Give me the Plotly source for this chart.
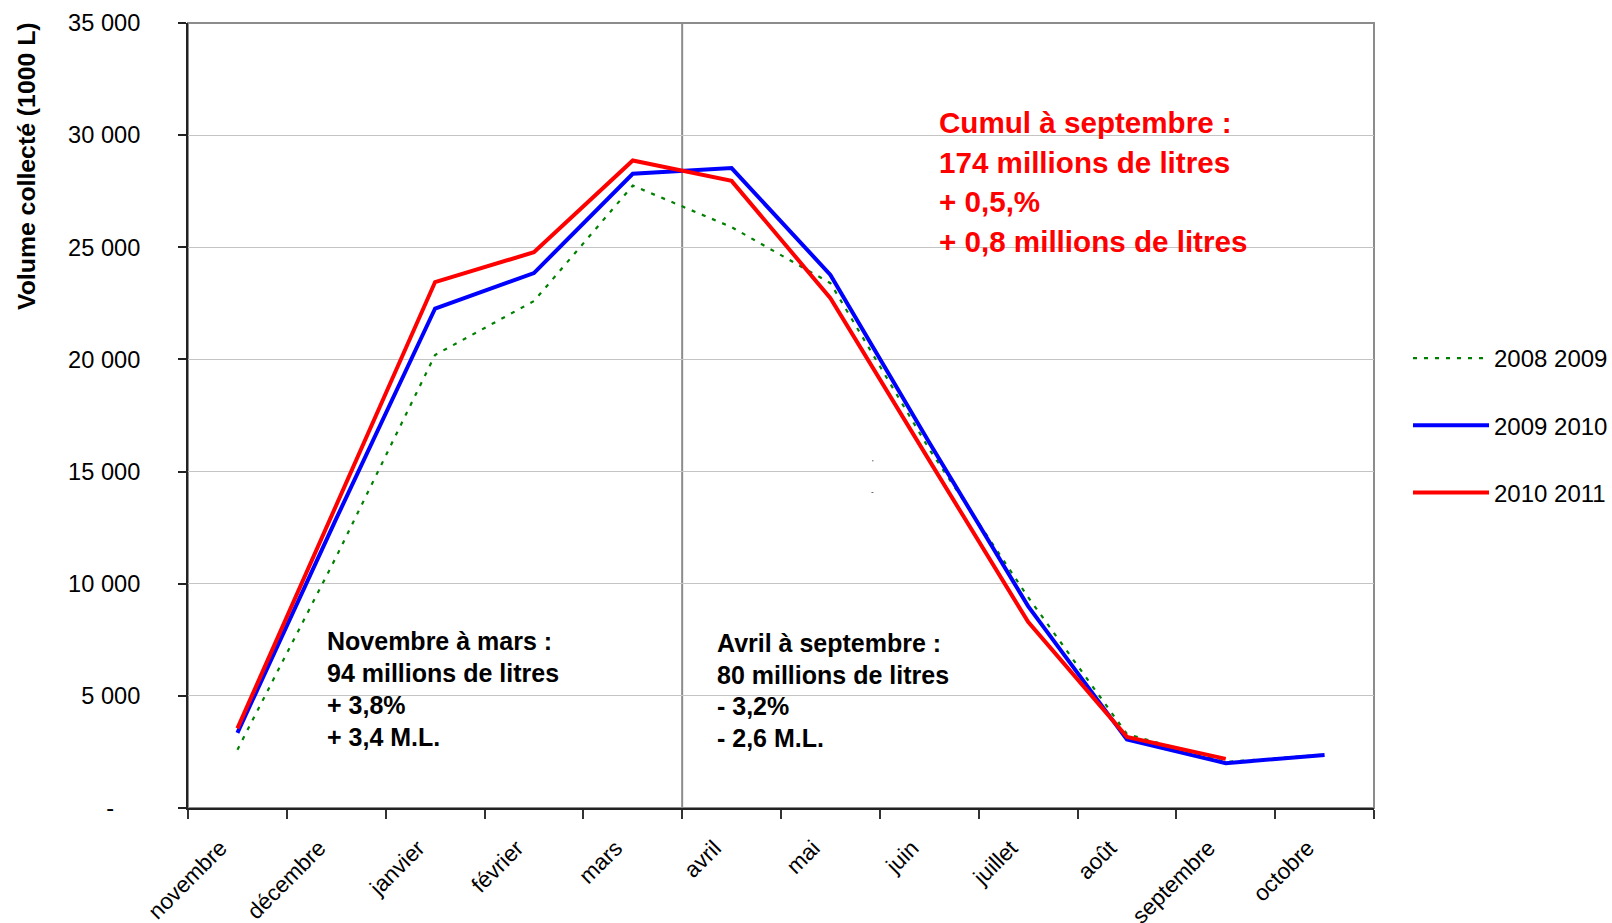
import plotly.graph_objects as go

# ---- data ----
months = ["novembre", "décembre", "janvier", "février", "mars", "avril",
          "mai", "juin", "juillet", "août", "septembre", "octobre"]
s_2008_2009 = [2600, 11200, 20200, 22600, 27750, 25900, 23400, 16000, 9400, 3300, 2050, 2380]
s_2009_2010 = [3350, 12900, 22270, 23850, 28280, 28530, 23770, 16300, 9000, 3050, 2000, 2360]
s_2010_2011 = [3550, 13500, 23450, 24780, 28870, 27960, 22730, 15500, 8300, 3170, 2190, None]
series_names = ["2008 2009", "2009 2010", "2010 2011"]
y_tickvals = [0, 5000, 10000, 15000, 20000, 25000, 30000, 35000]
y_ticktext = ["-\u00a0\u00a0\u00a0\u00a0", "5 000", "10 000", "15 000", "20 000",
              "25 000", "30 000", "35 000"]

FONT = "Arial, Liberation Sans, sans-serif"
W, H = 1612, 923
L, R, T, B = 188, 1374, 23, 808


def px(x):
    return (x - L) / (R - L)


def py(y):
    return (B - y) / (B - T)


fig = go.Figure()
fig.add_trace(go.Scatter(x=months, y=s_2008_2009, name=series_names[0], mode="lines",
                         legendgroup="a",
                         line=dict(color="#008000", width=2.2, dash="4px,7px")))
fig.add_trace(go.Scatter(x=months, y=s_2009_2010, name=series_names[1], mode="lines",
                         legendgroup="b",
                         line=dict(color="#0000FF", width=4)))
fig.add_trace(go.Scatter(x=months, y=s_2010_2011, name=series_names[2], mode="lines",
                         legendgroup="c",
                         line=dict(color="#FF0000", width=4)))

# plot-area border (gray) and separator line
fig.add_shape(type="rect", xref="paper", yref="paper", x0=0, x1=1, y0=0, y1=1,
              line=dict(color="#8c8c8c", width=2), layer="below")
fig.add_vline(x=4.5, line=dict(color="#8c8c8c", width=2), layer="below")

annotations = []
# y-axis title
annotations.append(dict(text="<b>Volume collecté (1000 L)</b>", textangle=-90,
                        xref="paper", yref="paper", x=px(27), y=py(166),
                        xanchor="center", yanchor="middle", showarrow=False,
                        font=dict(family=FONT, size=24.8, color="black")))


def add_lines(lines, x_left, baselines, size, color):
    for txt, bl in zip(lines, baselines):
        annotations.append(dict(text="<b>" + txt + "</b>", xref="paper", yref="paper",
                                x=px(x_left), y=py(bl - 0.36 * size),
                                xanchor="left", yanchor="middle", showarrow=False,
                                font=dict(family=FONT, size=size, color=color)))


add_lines(["Cumul à septembre :", "174 millions de litres", "+ 0,5,%",
           "+ 0,8 millions de litres"], 937, [133, 173, 212.5, 252], 29.6, "#FF0000")
add_lines(["Novembre à mars :", "94 millions de litres", "+ 3,8%", "+ 3,4 M.L."],
          325, [650, 682, 714, 746], 25, "black")
add_lines(["Avril à septembre :", "80 millions de litres", "- 3,2%", "- 2,6 M.L."],
          715, [652, 684, 715, 747], 25, "black")

# tiny stray marks
annotations.append(dict(text="'", xref="paper", yref="paper", x=px(873), y=py(462),
                        showarrow=False, font=dict(family=FONT, size=8, color="black")))
annotations.append(dict(text="-", xref="paper", yref="paper", x=px(872), y=py(491),
                        showarrow=False, font=dict(family=FONT, size=8, color="black")))

fig.update_layout(
    width=W, height=H, autosize=False,
    margin=dict(l=L, r=W - R, t=T, b=H - B, autoexpand=False),
    paper_bgcolor="white", plot_bgcolor="white",
    font=dict(family=FONT, size=23, color="black"),
    annotations=annotations,
    showlegend=True,
    legend=dict(x=px(1408), y=py(336), xanchor="left", yanchor="top",
                traceorder="grouped", tracegroupgap=33,
                font=dict(family=FONT, size=24, color="black"),
                bgcolor="rgba(0,0,0,0)", itemwidth=76),
)
fig.update_xaxes(type="category", range=[-0.5, 11.5], tickson="boundaries",
                 ticks="outside", ticklen=9, tickwidth=1.5, tickcolor="#333",
                 showline=True, linecolor="#222", linewidth=2, automargin=False,
                 showgrid=False, tickangle=-45, ticklabelstandoff=16,
                 ticklabelshift=-17,
                 tickfont=dict(family=FONT, size=22.5, color="black"))
fig.update_yaxes(range=[0, 35000], tickvals=y_tickvals, ticktext=y_ticktext,
                 ticks="outside", ticklen=8, tickwidth=1.5, tickcolor="#222",
                 showline=True, linecolor="#222", linewidth=2, automargin=False,
                 showgrid=True, gridcolor="#c4c4c4", gridwidth=1,
                 zeroline=False, ticklabelstandoff=33,
                 tickfont=dict(family=FONT, size=23.6, color="black"))

fig.write_html("out.html", config={"displayModeBar": False},
               post_script="document.body.style.margin='0';")
